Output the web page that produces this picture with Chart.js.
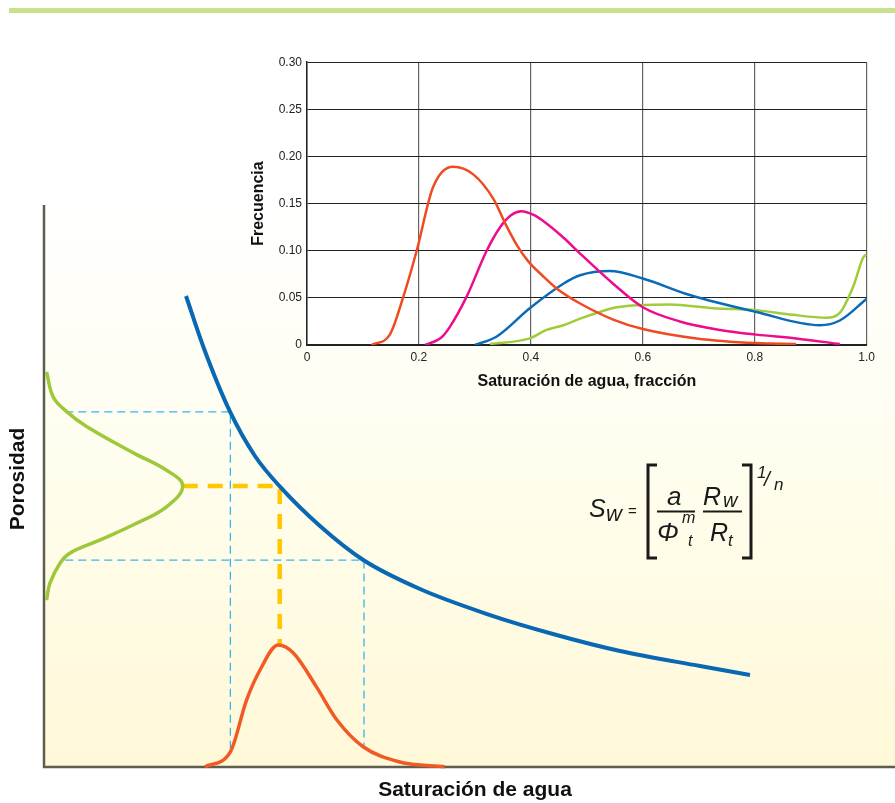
<!DOCTYPE html>
<html>
<head>
<meta charset="utf-8">
<script src="https://cdn.jsdelivr.net/npm/chart.js@4.4.0/dist/chart.umd.min.js"></script>
<style>
  body { margin: 0; background: #fff; width: 895px; height: 803px; overflow: hidden; position: relative; }
  #topBar { position: absolute; left: 9px; top: 8px; width: 886px; height: 5px; background: #c8e18c; }
  #main { position: absolute; left: 0; top: 0; }
  #inset { position: absolute; left: 240px; top: 50px; }
</style>
</head>
<body>
<canvas id="main" width="895" height="803"></canvas>
<canvas id="inset" width="640" height="350"></canvas>
<div id="topBar"></div>
<script>
const family = "'Liberation Sans', Arial, sans-serif";

// diagrama principal (ejes en % del area)
const curvaX = [16.69, 18.72, 21.86, 24.79, 27.73, 32.43, 37.52, 44.18, 52.06, 59.81, 67.69, 77.09, 82.96];
const curvaY = [83.81, 74.79, 63.22, 55.34, 49.88, 42.88, 36.83, 31.67, 27.22, 23.67, 20.64, 17.97, 16.37];

const porosidadX = [0.3, 1.1, 2.7, 5.0, 10.5, 14.4, 16.3, 14.4, 10.5, 6.6, 3.1, 1.9, 0.7, 0.3];
const porosidadY = [70.3, 65.8, 63.2, 60.6, 55.9, 52.8, 50.0, 46.3, 43.1, 40.4, 38.1, 36.3, 32.7, 29.7];

const saturacionX = [18.9, 21.9, 23.8, 25.4, 27.5, 29.3, 32.0, 34.4, 37.5, 41.8, 47.1];
const saturacionY = [0.05, 2.7, 11.9, 17.3, 21.7, 20.3, 14.3, 8.4, 3.6, 0.9, 0.05];

const guiaX = [16.3, 27.7, 27.7];
const guiaY = [50.0, 50.0, 21.7];
const limite1X = [2.5, 21.9, 21.9];
const limite1Y = [63.2, 63.2, 2.7];
const limite2X = [2.5, 37.6, 37.6];
const limite2Y = [36.8, 36.8, 3.4];

// recuadro de frecuencias
const rojoX = [0.115, 0.148, 0.172, 0.196, 0.225, 0.261, 0.297, 0.333, 0.355, 0.375, 0.395, 0.420, 0.446, 0.488, 0.547, 0.600, 0.696, 0.803, 0.874];
const rojoY = [0.000, 0.011, 0.051, 0.100, 0.167, 0.189, 0.181, 0.155, 0.128, 0.106, 0.089, 0.074, 0.060, 0.044, 0.027, 0.017, 0.007, 0.002, 0.001];
const rosaX = [0.211, 0.240, 0.255, 0.285, 0.321, 0.345, 0.365, 0.383, 0.405, 0.428, 0.460, 0.488, 0.547, 0.600, 0.666, 0.738, 0.803, 0.874, 0.952];
const rosaY = [0.000, 0.008, 0.019, 0.051, 0.100, 0.125, 0.138, 0.142, 0.138, 0.129, 0.113, 0.097, 0.065, 0.040, 0.025, 0.016, 0.011, 0.007, 0.001];
const azulX = [0.300, 0.339, 0.398, 0.458, 0.488, 0.541, 0.600, 0.684, 0.803, 0.916, 0.952, 1.000];
const azulY = [0.000, 0.009, 0.039, 0.065, 0.074, 0.0785, 0.0705, 0.053, 0.035, 0.021, 0.026, 0.049];
const verdeX = [0.327, 0.398, 0.428, 0.458, 0.488, 0.523, 0.553, 0.648, 0.726, 0.803, 0.868, 0.928, 0.952, 0.976, 0.994, 1.000];
const verdeY = [0.001, 0.007, 0.016, 0.021, 0.028, 0.035, 0.040, 0.043, 0.039, 0.037, 0.032, 0.029, 0.034, 0.062, 0.093, 0.096];

const pts = (xs, ys) => xs.map((x, i) => ({ x: x, y: ys[i] }));

function txt(ctx, s, x, y, size, style) {
  ctx.font = (style || '') + ' ' + size + 'px ' + family;
  ctx.fillText(s, x, y);
}

const fondo = {
  id: 'fondo',
  beforeDatasetsDraw(chart) {
    const { ctx, chartArea: a } = chart;
    ctx.save();
    const g = ctx.createLinearGradient(0, a.top, 0, a.bottom);
    g.addColorStop(0, '#ffffff');
    g.addColorStop(0.45, '#fffdee');
    g.addColorStop(1, '#fff9d8');
    ctx.fillStyle = g;
    ctx.fillRect(a.left, a.top, a.right - a.left, a.bottom - a.top);
    ctx.strokeStyle = '#5e5d52';
    ctx.lineWidth = 2.5;
    ctx.beginPath();
    ctx.moveTo(a.left, a.top);
    ctx.lineTo(a.left, a.bottom);
    ctx.lineTo(a.right, a.bottom);
    ctx.stroke();
    ctx.restore();
  },
  afterDraw(chart) {
    const ctx = chart.ctx;
    ctx.save();
    ctx.fillStyle = '#111';
    ctx.textAlign = 'center';
    ctx.textBaseline = 'middle';
    txt(ctx, 'Saturación de agua', 475, 790, 21, 'bold');
    ctx.translate(18, 479);
    ctx.rotate(-Math.PI / 2);
    txt(ctx, 'Porosidad', 0, 0, 21, 'bold');
    ctx.restore();

    // ecuacion de Archie
    ctx.save();
    ctx.fillStyle = '#1a1a1a';
    ctx.strokeStyle = '#1a1a1a';
    ctx.textAlign = 'left';
    ctx.textBaseline = 'alphabetic';
    txt(ctx, 'S', 589, 517, 25, 'italic');
    txt(ctx, 'w', 606, 521, 22, 'italic');
    txt(ctx, '=', 628, 516, 15);
    txt(ctx, 'a', 667, 505, 26, 'italic');
    txt(ctx, 'Φ', 657, 541, 26, 'italic');
    txt(ctx, 'm', 682, 523, 16, 'italic');
    txt(ctx, 't', 688, 546, 16, 'italic');
    txt(ctx, 'R', 703, 505, 25, 'italic');
    txt(ctx, 'w', 723, 507, 20, 'italic');
    txt(ctx, 'R', 710, 541, 25, 'italic');
    txt(ctx, 't', 728, 546, 17, 'italic');
    txt(ctx, '1', 757, 478, 17, 'italic');
    txt(ctx, '/', 764, 486, 21, 'italic');
    txt(ctx, 'n', 774, 490, 17, 'italic');
    ctx.lineWidth = 2;
    ctx.beginPath();
    ctx.moveTo(657, 511.5); ctx.lineTo(695, 511.5);
    ctx.moveTo(703, 511.5); ctx.lineTo(742, 511.5);
    ctx.stroke();
    ctx.lineWidth = 3;
    ctx.beginPath();
    ctx.moveTo(657, 465); ctx.lineTo(648, 465); ctx.lineTo(648, 558); ctx.lineTo(657, 558);
    ctx.moveTo(742, 465); ctx.lineTo(751, 465); ctx.lineTo(751, 558); ctx.lineTo(742, 558);
    ctx.stroke();
    ctx.restore();
  }
};

const mainChart = new Chart(document.getElementById('main'), {
  type: 'line',
  data: {
    datasets: [
      { data: pts(curvaX, curvaY), borderColor: '#0868b4', borderWidth: 4, cubicInterpolationMode: 'monotone', order: 0 },
      { data: pts(saturacionX, saturacionY), borderColor: '#f15a24', borderWidth: 3.5, cubicInterpolationMode: 'monotone', order: 1 },
      { data: pts(porosidadX, porosidadY), borderColor: '#9dc83a', borderWidth: 3.5, tension: 0.4, order: 2 },
      { data: pts(guiaX, guiaY), borderColor: '#ffc700', borderWidth: 4.5, borderDash: [15, 10], tension: 0, order: 3 },
      { data: pts(limite1X, limite1Y), borderColor: '#35b6ee', borderWidth: 1.3, borderDash: [8, 5], tension: 0, order: 4 },
      { data: pts(limite2X, limite2Y), borderColor: '#35b6ee', borderWidth: 1.3, borderDash: [8, 5], tension: 0, order: 4 }
    ]
  },
  options: {
    responsive: false,
    animation: false,
    layout: { padding: { left: 44, top: 205, right: 0, bottom: 36 } },
    plugins: { legend: { display: false }, tooltip: { enabled: false } },
    elements: { point: { radius: 0 }, line: { fill: false } },
    datasets: { line: { clip: false } },
    scales: {
      x: { type: 'linear', min: 0, max: 100, display: false },
      y: { type: 'linear', min: 0, max: 100, display: false }
    }
  },
  plugins: [fondo]
});

const blanco = {
  id: 'blanco',
  beforeDraw(chart) {
    const { ctx, chartArea: a } = chart;
    ctx.save();
    ctx.fillStyle = '#ffffff';
    ctx.fillRect(a.left, a.top, a.right - a.left, a.bottom - a.top);
    ctx.restore();
  }
};

const insetChart = new Chart(document.getElementById('inset'), {
  type: 'line',
  data: {
    datasets: [
      { data: pts(rojoX, rojoY), borderColor: '#ef4b23' },
      { data: pts(rosaX, rosaY), borderColor: '#ec0c8c' },
      { data: pts(azulX, azulY), borderColor: '#0a6cb8' },
      { data: pts(verdeX, verdeY), borderColor: '#a0cc3a' }
    ]
  },
  options: {
    responsive: false,
    animation: false,
    layout: { padding: { left: 0, top: 11, right: 12, bottom: 0 } },
    plugins: { legend: { display: false }, tooltip: { enabled: false } },
    elements: { point: { radius: 0 }, line: { borderWidth: 2.5, cubicInterpolationMode: 'monotone', fill: false } },
    scales: {
      x: {
        type: 'linear', min: 0, max: 1,
        afterFit: (s) => { s.height = 55; },
        ticks: { stepSize: 0.2, padding: 5, maxRotation: 0, color: '#222', font: { size: 12, family: family },
                 callback: (v) => v === 0 ? '0' : v.toFixed(1) },
        grid: { color: '#666', lineWidth: 1.2, drawTicks: false },
        border: { color: '#222', width: 1.5 },
        title: { display: true, text: 'Saturación de agua, fracción', color: '#111',
                 font: { size: 16, weight: 'bold', family: family }, padding: { top: 0, bottom: 9 } }
      },
      y: {
        type: 'linear', min: 0, max: 0.3,
        afterFit: (s) => { s.width = 67; },
        ticks: { stepSize: 0.05, padding: 5, color: '#222', font: { size: 12, family: family },
                 callback: (v) => v === 0 ? '0' : v.toFixed(2) },
        grid: { color: '#222', lineWidth: 1, drawTicks: false },
        border: { color: '#222', width: 1.5 },
        title: { display: true, text: 'Frecuencia', color: '#111',
                 font: { size: 16, weight: 'bold', family: family }, padding: { top: 9, bottom: 0 } }
      }
    }
  },
  plugins: [blanco]
});
</script>
</body>
</html>
